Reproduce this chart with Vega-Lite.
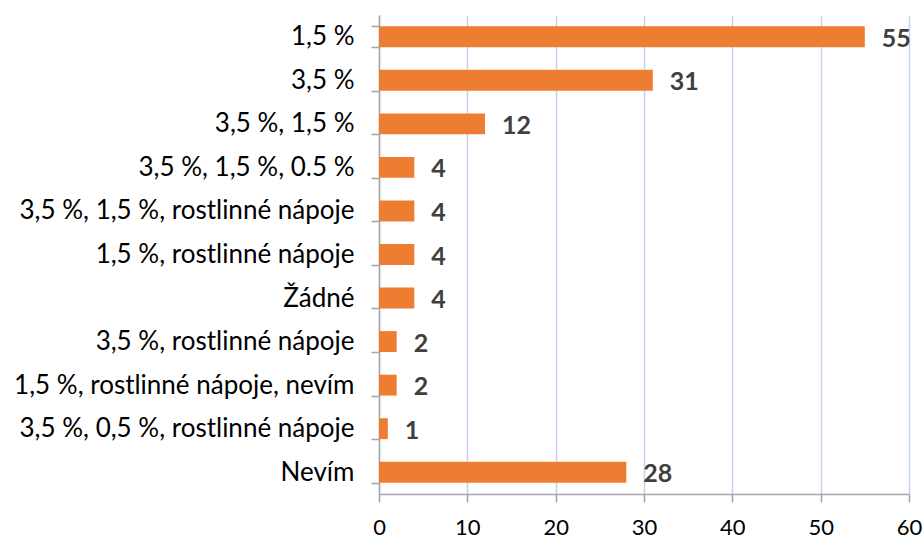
{
  "$schema": "https://vega.github.io/schema/vega-lite/v6.json",
  "autosize": {"type": "none"},
  "width": 530,
  "height": 479,
  "padding": {"left": 379, "top": 15, "right": 14, "bottom": 47},
  "background": "white",
  "config": {
    "view": {"stroke": null},
    "font": "Lato"
  },
  "data": {
    "values": [
      {"odpoved": "1,5 %", "pocet": 55},
      {"odpoved": "3,5 %", "pocet": 31},
      {"odpoved": "3,5 %, 1,5 %", "pocet": 12},
      {"odpoved": "3,5 %, 1,5 %, 0.5 %", "pocet": 4},
      {"odpoved": "3,5 %, 1,5 %, rostlinné nápoje", "pocet": 4},
      {"odpoved": "1,5 %, rostlinné nápoje", "pocet": 4},
      {"odpoved": "Žádné", "pocet": 4},
      {"odpoved": "3,5 %, rostlinné nápoje", "pocet": 2},
      {"odpoved": "1,5 %, rostlinné nápoje, nevím", "pocet": 2},
      {"odpoved": "3,5 %, 0,5 %, rostlinné nápoje", "pocet": 1},
      {"odpoved": "Nevím", "pocet": 28}
    ]
  },
  "encoding": {
    "y": {
      "field": "odpoved",
      "type": "nominal",
      "sort": null,
      "scale": {"paddingInner": 0.52, "paddingOuter": 0.26},
      "axis": {
        "title": null,
        "domainColor": "#a6a6a6",
        "domainWidth": 1.5,
        "tickColor": "#a6a6a6",
        "tickWidth": 1.5,
        "tickSize": 8,
        "tickBand": "extent",
        "labelFontSize": 26,
        "labelColor": "#000000",
        "labelPadding": 17,
        "labelLimit": 0
      }
    },
    "x": {
      "field": "pocet",
      "type": "quantitative",
      "scale": {"domain": [0, 60], "nice": false},
      "axis": {
        "title": null,
        "values": [0, 10, 20, 30, 40, 50, 60],
        "grid": true,
        "gridColor": "#c3d3ee",
        "gridWidth": 1.5,
        "domainColor": "#a6a6a6",
        "domainWidth": 1.5,
        "tickColor": "#a6a6a6",
        "tickWidth": 1.5,
        "tickSize": 8,
        "labelFontSize": 22,
        "labelColor": "#000000",
        "labelPadding": 15,
        "labelFlush": false
      }
    }
  },
  "layer": [
    {
      "mark": {"type": "bar", "color": "#ed7d31"}
    },
    {
      "mark": {
        "type": "text",
        "align": "left",
        "baseline": "middle",
        "dx": 17,
        "dy": 2,
        "fontSize": 25,
        "fontWeight": "bold",
        "color": "#404040"
      },
      "encoding": {"text": {"field": "pocet", "type": "quantitative"}}
    }
  ]
}
